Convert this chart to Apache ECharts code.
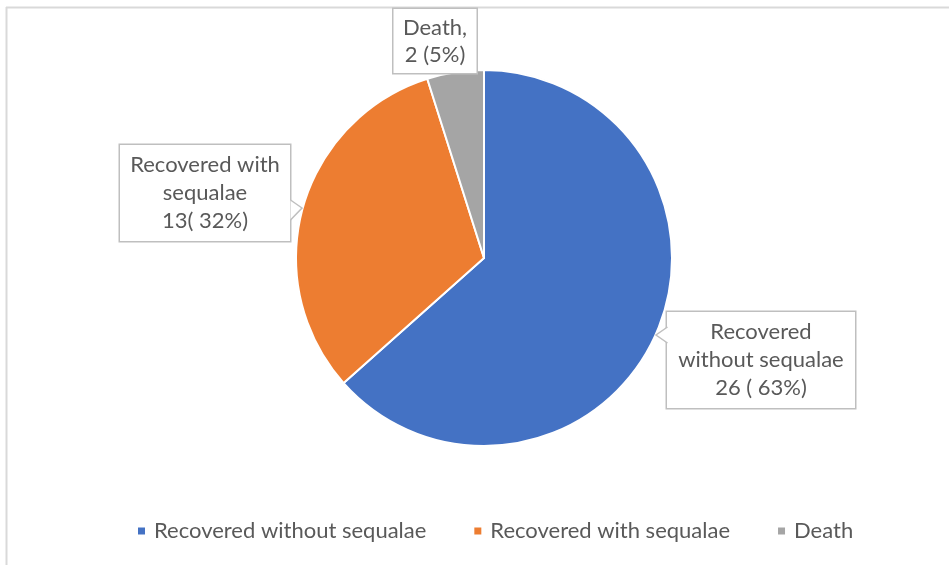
<!DOCTYPE html>
<html>
<head>
<meta charset="utf-8">
<script src="https://cdn.jsdelivr.net/npm/echarts@6/dist/echarts.min.js"></script>
<style>
  html, body { margin: 0; padding: 0; background: #fff; }
  #chart { width: 949px; height: 565px; }
</style>
</head>
<body>
<div id="chart"></div>
<script>
  // outcome categories and counts
  const categories = ['Recovered without sequalae', 'Recovered with sequalae', 'Death']
  const counts = [26, 13, 2]
  const percents = [63, 32, 5]
  const labelTemplates = [
    'Recovered\nwithout sequalae\n{c} ( {p}%)',
    'Recovered with\nsequalae\n{c}( {p}%)',
    'Death,\n{c} ({p}%)'
  ]
  const colors = ['#4472C4', '#ED7D31', '#A5A5A5']

  // where each callout box sits (centre) and its inner width
  const boxCentres = [[761, 360], [205, 193], [435, 41]]
  const boxWidths = [172, 154, 67]

  const chart = echarts.init(document.getElementById('chart'))
  const fontFamily = 'Lato, "Liberation Sans", sans-serif'

  // little callout notches on the two side boxes
  function notch(pts) {
    return [
      { type: 'polygon', z: 100, shape: { points: pts }, style: { fill: '#fff' } },
      { type: 'polyline', z: 101, shape: { points: pts }, style: { stroke: '#bfbfbf', lineWidth: 1.5, fill: null } }
    ]
  }

  chart.setOption({
    animation: false,
    color: colors,
    graphic: [
      { type: 'line', shape: { x1: 6.5, y1: 7, x2: 6.5, y2: 565 }, style: { stroke: '#d9d9d9', lineWidth: 2 } },
      { type: 'line', shape: { x1: 6, y1: 7.5, x2: 949, y2: 7.5 }, style: { stroke: '#d9d9d9', lineWidth: 2 } }
    ].concat(notch([[290.5, 200], [302, 208], [290.5, 220]]))
     .concat(notch([[667.5, 327], [656, 335], [667.5, 343]])),
    legend: {
      bottom: 18,
      left: 131,
      icon: 'rect',
      itemWidth: 9,
      itemHeight: 9,
      itemGap: 46,
      textStyle: { color: '#595959', fontSize: 22, fontFamily, padding: [0, 0, 0, 3] },
      data: categories
    },
    series: [{
      type: 'pie',
      center: [484, 258],
      radius: 188,
      startAngle: 90,
      clockwise: true,
      itemStyle: { borderColor: '#fff', borderWidth: 2 },
      labelLine: { show: false },
      label: {
        show: true,
        position: 'outside',
        color: '#595959',
        fontSize: 22,
        fontFamily,
        lineHeight: 28,
        align: 'center',
        backgroundColor: '#fff',
        borderColor: '#bfbfbf',
        borderWidth: 1.5,
        padding: [6, 8]
      },
      labelLayout: function (p) {
        const c = boxCentres[p.dataIndex]
        return { x: c[0], y: c[1], align: 'center', verticalAlign: 'middle' }
      },
      data: categories.map(function (name, i) {
        return {
          name: name,
          value: counts[i],
          label: {
            width: boxWidths[i],
            padding: i === 2 ? [5, 8] : [6, 8],
            lineHeight: i === 2 ? 27 : 28,
            formatter: labelTemplates[i].replace('{c}', counts[i]).replace('{p}', percents[i])
          }
        }
      })
    }]
  })
</script>
</body>
</html>
